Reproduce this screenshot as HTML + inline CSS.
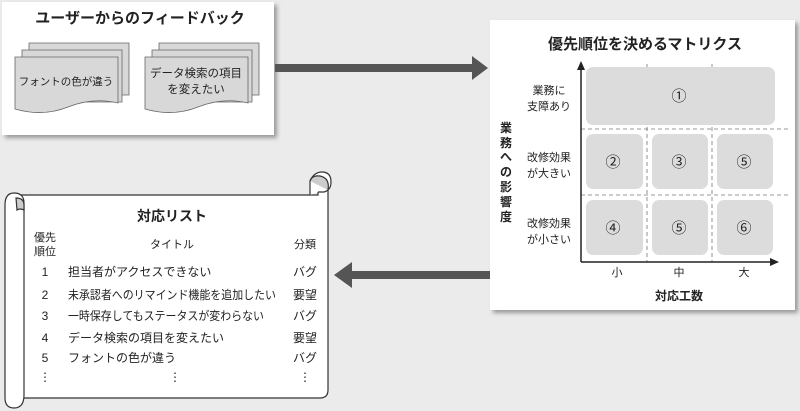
<!DOCTYPE html><html><head><meta charset="utf-8"><style>
body{margin:0;background:#ebebeb;}
svg{display:block;font-family:"Liberation Sans","Noto Sans CJK JP",sans-serif;}
</style></head><body>
<svg width="800" height="411" viewBox="0 0 800 411">
<defs><filter id="sh" x="-5%" y="-5%" width="115%" height="115%"><feDropShadow dx="3" dy="3" stdDeviation="2" flood-color="#000" flood-opacity="0.35"/></filter></defs>
<rect width="800" height="411" fill="#ebebeb"/>
<!-- feedback panel -->
<rect x="2" y="2" width="272" height="133" fill="#fff" filter="url(#sh)"/>
<text x="140" y="23" font-size="15" font-weight="bold" text-anchor="middle" fill="#222">ユーザーからのフィードバック</text>
<g stroke="#666" stroke-width="0.8" fill="#d8d8d8">
<path d="M29 43h100v52H29z"/><path d="M22 50h100v52H22z"/>
<path d="M15 57h103v46q-25 -6 -50 4t-53 2z"/>
<path d="M159 43h100v52H159z"/><path d="M152 50h100v52H152z"/>
<path d="M145 57h103v46q-25 -6 -50 4t-53 2z"/>
</g>
<text x="66" y="85" font-size="10.5" text-anchor="middle" fill="#222">フォントの色が違う</text>
<text x="196" y="77" font-size="11.5" text-anchor="middle" fill="#222">データ検索の項目</text>
<text x="196" y="93" font-size="11.5" text-anchor="middle" fill="#222">を変えたい</text>
<!-- arrows -->
<rect x="275" y="64" width="200" height="8" fill="#555"/>
<path d="M472 56l16 12l-16 12z" fill="#555"/>
<rect x="350" y="271" width="142" height="8" fill="#555"/>
<path d="M352 262l-18 13l18 13z" fill="#555"/>
<!-- matrix panel -->
<rect x="490" y="20" width="305" height="290" fill="#fff" filter="url(#sh)"/>
<text x="645" y="49" font-size="15" font-weight="bold" text-anchor="middle" fill="#222">優先順位を決めるマトリクス</text>
<g stroke="#777" stroke-dasharray="4,3" stroke-width="0.8">
<line x1="647" y1="64" x2="647" y2="262"/><line x1="712" y1="64" x2="712" y2="262"/>
<line x1="581" y1="129" x2="790" y2="129"/><line x1="581" y1="195" x2="790" y2="195"/>
</g>
<g fill="#dcdcdc">
<rect x="586" y="67" width="189" height="58" rx="7"/>
<rect x="586" y="134" width="57" height="55" rx="7"/><rect x="652" y="134" width="56" height="55" rx="7"/><rect x="717" y="134" width="56" height="55" rx="7"/>
<rect x="586" y="200" width="57" height="55" rx="7"/><rect x="652" y="200" width="56" height="55" rx="7"/><rect x="717" y="200" width="56" height="55" rx="7"/>
</g>
<g stroke="#222" stroke-width="1.5"><line x1="581" y1="68" x2="581" y2="262"/><line x1="581" y1="262" x2="772" y2="262"/></g>
<path d="M577 70l4-9l4 9z M770 258l9 4l-9 4z" fill="#222"/>
<g font-size="15" text-anchor="middle" fill="#222">
<text x="679" y="101">①</text>
<text x="613" y="167">②</text><text x="679" y="167">③</text><text x="744" y="167">⑤</text>
<text x="613" y="233">④</text><text x="679" y="233">⑤</text><text x="744" y="233">⑥</text>
</g>
<g font-size="11" text-anchor="middle" fill="#222">
<text x="549" y="94">業務に</text><text x="549" y="110">支障あり</text>
<text x="549" y="161">改修効果</text><text x="549" y="177">が大きい</text>
<text x="549" y="227">改修効果</text><text x="549" y="243">が小さい</text>
<text x="617" y="276">小</text><text x="679" y="276">中</text><text x="744" y="276">大</text>
</g>
<text x="679" y="300" font-size="12" font-weight="bold" text-anchor="middle" fill="#222">対応工数</text>
<g font-size="12" font-weight="bold" text-anchor="middle" fill="#222">
<text x="506" y="132">業</text><text x="506" y="147">務</text><text x="506" y="161">へ</text><text x="506" y="176">の</text><text x="506" y="191">影</text><text x="506" y="206">響</text><text x="506" y="221">度</text>
</g>
<!-- scroll -->
<g stroke="#333" stroke-width="1.2">
<path d="M20 195H318V178Q322 172 328 178V390Q328 398 320 398H22" fill="#fff"/>
<path d="M310 195V181Q314 172 322 172Q331 172 331 182Q331 190 324 192H318" fill="#fff"/>
<path d="M310 181Q312 175 320 176Q330 178 328 190" fill="#ccc"/>
<path d="M5 205Q5 193 14 193Q24 193 24 203V395Q24 408 14 408Q5 408 5 398V205Z" fill="#fff"/>
<path d="M16 198Q24 198 24 205V210Q20 208 17 210Z" fill="#ccc"/>
</g>
<text x="172" y="221" font-size="14" font-weight="bold" text-anchor="middle" fill="#222">対応リスト</text>
<g font-size="11" fill="#222">
<text x="45" y="241" text-anchor="middle">優先</text><text x="45" y="255" text-anchor="middle">順位</text>
<text x="172" y="248" text-anchor="middle">タイトル</text>
<text x="305" y="248" text-anchor="middle">分類</text>
</g>
<g font-size="12" fill="#222">
<text x="45" y="276" text-anchor="middle">1</text><text x="68" y="276">担当者がアクセスできない</text><text x="305" y="276" text-anchor="middle">バグ</text>
<text x="45" y="299" text-anchor="middle">2</text><text x="68" y="299" textLength="208" lengthAdjust="spacingAndGlyphs">未承認者へのリマインド機能を追加したい</text><text x="305" y="299" text-anchor="middle">要望</text>
<text x="45" y="320" text-anchor="middle">3</text><text x="68" y="320" textLength="196" lengthAdjust="spacingAndGlyphs">一時保存してもステータスが変わらない</text><text x="305" y="320" text-anchor="middle">バグ</text>
<text x="45" y="342" text-anchor="middle">4</text><text x="68" y="342">データ検索の項目を変えたい</text><text x="305" y="342" text-anchor="middle">要望</text>
<text x="45" y="362" text-anchor="middle">5</text><text x="68" y="362">フォントの色が違う</text><text x="305" y="362" text-anchor="middle">バグ</text>
<text x="45" y="381" text-anchor="middle">⋮</text><text x="175" y="381" text-anchor="middle">⋮</text><text x="305" y="381" text-anchor="middle">⋮</text>
</g>
</svg>
</body></html>
